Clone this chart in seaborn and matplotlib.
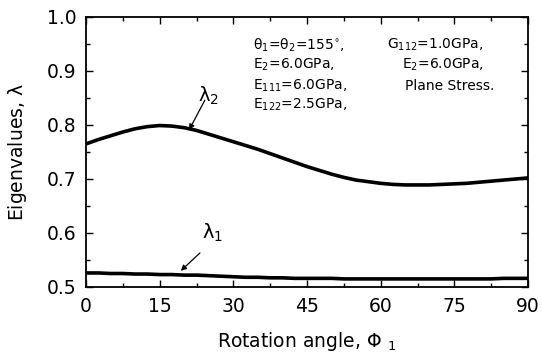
import matplotlib
matplotlib.use("Agg")
import matplotlib.pyplot as plt
import seaborn as sns
import pandas as pd
from matplotlib.ticker import MultipleLocator

angles = [0, 2.5, 5, 7.5, 10, 12.5, 15, 17.5, 20, 22.5, 25, 27.5, 30, 32.5, 35, 37.5, 40,
          42.5, 45, 47.5, 50, 52.5, 55, 57.5, 60, 62.5, 65, 67.5, 70, 72.5, 75, 77.5, 80,
          82.5, 85, 87.5, 90]
lambda2 = [0.765, 0.773, 0.780, 0.787, 0.793, 0.797, 0.799, 0.798, 0.795, 0.790, 0.783,
           0.776, 0.769, 0.762, 0.755, 0.747, 0.739, 0.731, 0.723, 0.716, 0.709, 0.703,
           0.698, 0.695, 0.692, 0.690, 0.689, 0.689, 0.689, 0.690, 0.691, 0.692, 0.694,
           0.696, 0.698, 0.700, 0.702]
lambda1 = [0.526, 0.526, 0.525, 0.525, 0.524, 0.524, 0.523, 0.523, 0.522, 0.522, 0.521,
           0.520, 0.519, 0.518, 0.518, 0.517, 0.517, 0.516, 0.516, 0.516, 0.516, 0.515,
           0.515, 0.515, 0.515, 0.515, 0.515, 0.515, 0.515, 0.515, 0.515, 0.515, 0.515,
           0.515, 0.516, 0.516, 0.516]
x_ticks = [0, 15, 30, 45, 60, 75, 90]
y_ticks = [0.5, 0.6, 0.7, 0.8, 0.9, 1.0]
info_left = [r"$\theta_1$=$\theta_2$=155$^{\circ}$,", r"E$_2$=6.0GPa,",
             r"E$_{111}$=6.0GPa,", r"E$_{122}$=2.5GPa,"]
info_right = [r"G$_{112}$=1.0GPa,", r"E$_2$=6.0GPa,", "Plane Stress."]

sns.set_theme(style="ticks")
plt.rcParams['font.family'] = ['DejaVu Sans']
plt.rcParams['mathtext.fontset'] = 'dejavusans'
plt.rcParams['mathtext.default'] = 'regular'
plt.rcParams['text.color'] = 'black'
plt.rcParams['axes.labelcolor'] = 'black'
plt.rcParams['xtick.color'] = 'black'
plt.rcParams['ytick.color'] = 'black'
plt.rcParams['axes.edgecolor'] = 'black'

df = pd.DataFrame({"angle": angles * 2,
                   "value": lambda2 + lambda1,
                   "series": ["l2"] * len(angles) + ["l1"] * len(angles)})

fig = plt.figure(figsize=(5.42, 3.64), dpi=100)
ax = fig.add_axes([86 / 542, 1 - 287 / 364, (528 - 86) / 542, (287 - 17) / 364])
sns.lineplot(data=df, x="angle", y="value", hue="series",
             palette={"l2": "black", "l1": "black"},
             linewidth=2.6, legend=False, ax=ax)

ax.set_xlim(0, 90)
ax.set_ylim(0.5, 1.0)
ax.set_xticks(x_ticks)
ax.set_xticklabels([str(t) for t in x_ticks])
ax.set_yticks(y_ticks)
ax.set_yticklabels([f"{t:.1f}" for t in y_ticks])
ax.xaxis.set_minor_locator(MultipleLocator(7.5))
ax.yaxis.set_minor_locator(MultipleLocator(0.05))
ax.tick_params(which="both", direction="in", top=True, right=True, colors="black",
               labelcolor="black")
ax.tick_params(which="major", length=5, width=1, labelsize=13.5)
ax.tick_params(which="minor", length=3, width=1)
ax.tick_params(axis="x", pad=7)
ax.tick_params(axis="y", pad=7)
for s in ax.spines.values():
    s.set_linewidth(1.3)
    s.set_color("black")

ax.set_xlabel(r"Rotation angle, $\Phi$ $_{1}$", fontsize=13.5, labelpad=10, color="black")
ax.set_ylabel(r"Eigenvalues, $\lambda$", fontsize=13.5, labelpad=13, color="black")

arrow = dict(arrowstyle="-|>", color="black", lw=0.9, mutation_scale=8,
             shrinkA=0, shrinkB=0)
ax.annotate("", xy=(21.0, 0.791), xytext=(24.2, 0.846), arrowprops=arrow)
ax.text(25.0, 0.854, r"$\lambda_2$", fontsize=14, ha="center", va="center", color="black")
ax.annotate("", xy=(19.3, 0.530), xytext=(23.2, 0.563), arrowprops=arrow)
ax.text(25.7, 0.600, r"$\lambda_1$", fontsize=14, ha="center", va="center", color="black")

ys = [0.948, 0.911, 0.872, 0.837]
for t, y in zip(info_left, ys):
    ax.text(34.0, y, t, fontsize=10, va="center", ha="left", color="black")
xs_right = [61.3, 64.3, 65.0]
for t, y, x in zip(info_right, ys, xs_right):
    ax.text(x, y, t, fontsize=10, va="center", ha="left", color="black")

fig.savefig("out.png", dpi=100)
